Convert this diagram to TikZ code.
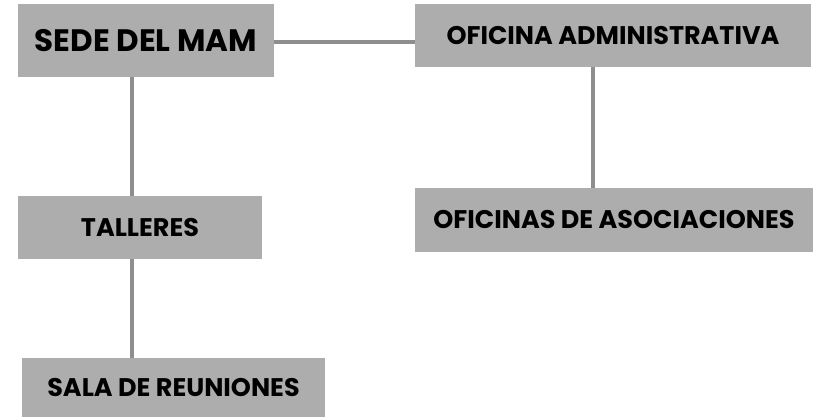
\documentclass[tikz,border=0pt]{standalone}
\usepackage{fontspec}
\setmainfont{Poppins}
\usepackage{xcolor}
\usetikzlibrary{calc}
\definecolor{boxgray}{HTML}{ADADAD}
\definecolor{linegray}{HTML}{8E8E8E}
\tikzset{
    area/.style={fill=boxgray, inner sep=0pt, font=\bfseries\fontsize{25.5}{25.5}\selectfont, text=black},
    enlace/.style={draw=linegray, line width=4pt}
}

\begin{document}
\begin{tikzpicture}[x=1pt,y=-1pt]
    \useasboundingbox (0,0) rectangle (820,417);
    \node[area,minimum width=256pt,minimum height=73pt,font=\bfseries\fontsize{31}{31}\selectfont] (sede) at (146,40.5) {SEDE DEL MAM};
    \node[area,minimum width=396pt,minimum height=63pt] (admin) at (613,35.5) {OFICINA ADMINISTRATIVA};
    \node[area,minimum width=244pt,minimum height=63pt] (talleres) at (140,227.5) {TALLERES};
    \node[area,minimum width=398pt,minimum height=64pt] (asoc) at (614,220) {OFICINAS DE ASOCIACIONES};
    \node[area,minimum width=303pt,minimum height=59pt] (sala) at (173.5,387.5) {SALA DE REUNIONES};
    \draw[enlace] ([yshift=-1.5pt]sede.east) -- ([yshift=-1.5pt]sede.east -| admin.west);
    \draw[enlace] ([xshift=-14pt]sede.south) -- ([xshift=-14pt]sede.south |- talleres.north);
    \draw[enlace] ([xshift=-8pt]talleres.south) -- ([xshift=-8pt]talleres.south |- sala.north);
    \draw[enlace] ([xshift=-20pt]admin.south) -- ([xshift=-20pt]admin.south |- asoc.north);
\end{tikzpicture}
\end{document}
